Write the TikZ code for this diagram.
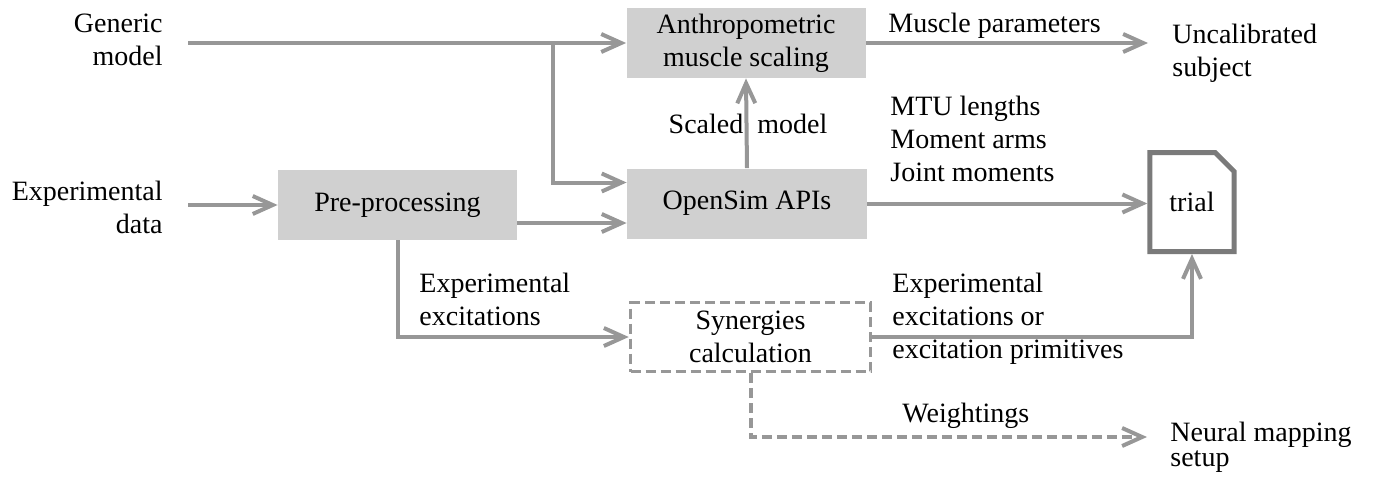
\documentclass[tikz,border=0pt]{standalone}
\usepackage{fontspec}
\setmainfont{Liberation Serif}
\usepackage{tikz}
\usetikzlibrary{arrows.meta,positioning,shapes.misc}
\definecolor{boxgray}{HTML}{D0D0D0}
\definecolor{linegray}{HTML}{979797}
\definecolor{docgray}{HTML}{7A7A7A}

\begin{document}
\begin{tikzpicture}[x=0.5pt,y=-0.5pt,font=\fontsize{14}{16.5}\selectfont,box/.style={fill=boxgray,align=center,minimum width=119.5pt,minimum height=35pt,inner sep=2pt},txt/.style={inner sep=0pt,align=left},flow/.style={draw=linegray,line width=2pt,-{Straight Barb[length=10pt,width=9pt]}},dashflow/.style={flow,dash pattern=on 5pt off 2.5pt}]
\useasboundingbox (0,0) rectangle (1373,477);
\node[box] (anthro) at (746,43) {Anthropometric\\muscle scaling};
\node[box,minimum width=120pt] (opensim) at (747,203.5) {OpenSim APIs};
\node[box] (pre) at (397.5,205) {Pre-processing};
\node[draw=linegray,line width=1.75pt,dash pattern=on 5pt off 2.5pt,align=center,inner sep=2pt,minimum width=120pt,minimum height=34.5pt] (syn) at (750.5,337) {Synergies\\calculation};
\node[draw=docgray,line width=2.5pt,chamfered rectangle,chamfered rectangle corners=north east,chamfered rectangle xsep=6.5pt,minimum width=40.5pt,minimum height=49.5pt] (trial) at (1192,202) {trial};
\node[txt,align=right,anchor=north east] (generic) at (163,14) {Generic\\model};
\node[txt,align=right,anchor=north east] (expdata) at (163,181) {Experimental\\data};
\node[txt,anchor=north west] (uncal) at (1172,24) {Uncalibrated\\subject};
\node[txt,anchor=north west] (neural) at (1170,422) {Neural mapping\\[-4pt]setup};
\node[txt] (scaled) at (748,124) {Scaled\ \ model};
\node[txt,anchor=north west] (musclepar) at (888,13) {Muscle parameters};
\node[txt,anchor=north west] (mtu) at (890,96) {MTU lengths\\Moment arms\\Joint moments};
\node[txt,anchor=north west] (expexc) at (419,273) {Experimental\\excitations};
\node[txt,anchor=north west] (synout) at (892,273) {Experimental\\excitations or\\excitation primitives};
\node[txt,anchor=north west] (weight) at (902,403) {Weightings};
\coordinate (split) at (553,43);
\coordinate (wend) at (1147,437);
\draw[flow,shorten <=12.5pt] (generic.east |- anthro.west) -- (anthro.west);
\draw[flow] (split) |- ([yshift=10.5pt]opensim.west);
\draw[flow,shorten >=12pt] (anthro.east) -- (anthro.east -| uncal.west);
\draw[flow] (opensim.north) -- (anthro.south);
\draw[flow,shorten <=12.5pt] (expdata.east |- pre.west) -- (pre.west);
\draw[flow] ([yshift=-9pt]pre.east) -- ([yshift=-9pt]pre.east -| opensim.west);
\draw[flow] (opensim.east) -- (opensim.east -| trial.west);
\draw[flow] (pre.south) |- (syn.west);
\draw[flow] (syn.east) -| (trial.south);
\draw[dashflow] (syn.south) |- (wend);
\end{tikzpicture}
\end{document}
